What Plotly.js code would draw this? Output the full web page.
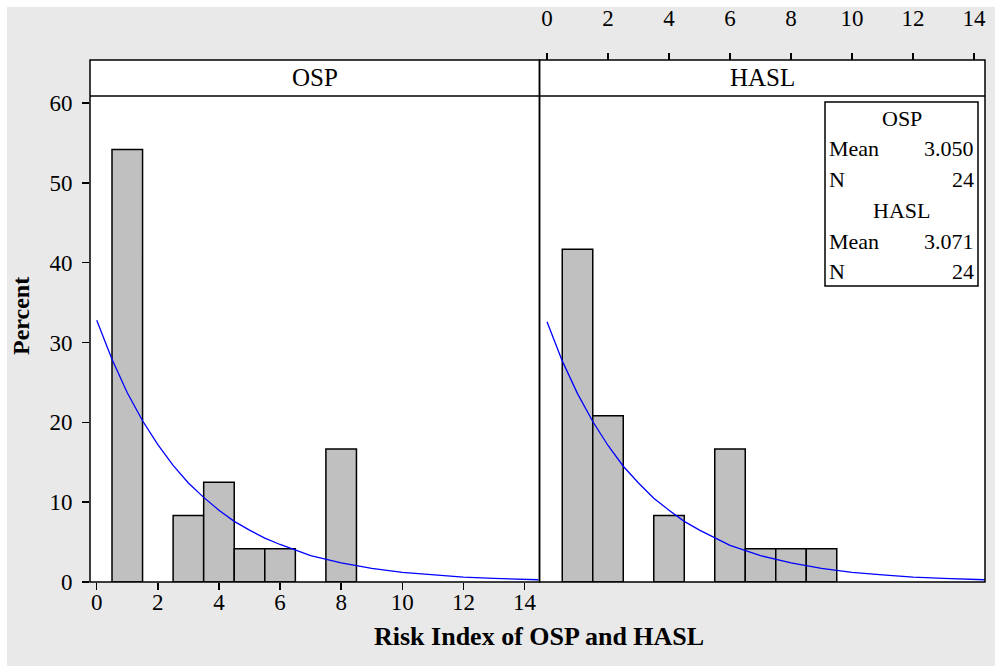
<!DOCTYPE html>
<html>
<head>
<meta charset="utf-8">
<script src="https://cdn.plot.ly/plotly-3.0.1.min.js"></script>
<style>
html,body{margin:0;padding:0;background:#ffffff;}
#chart{position:absolute;left:7px;top:7px;width:988px;height:659px;}
</style>
</head>
<body>
<div id="chart"></div>
<script>
// ---- data ----
var panelNames = ["OSP", "HASL"];
var ospBinCenters = [1, 3, 4, 5, 6, 8];
var ospPercent = [54.17, 8.33, 12.5, 4.17, 4.17, 16.67];
var haslBinCenters = [1, 2, 4, 6, 7, 8, 9];
var haslPercent = [41.67, 20.83, 8.33, 16.67, 4.17, 4.17, 4.17];
var binWidth = 1;

var ospCurveX = [0, 0.5, 1, 1.5, 2, 2.5, 3, 3.5, 4, 4.5, 5, 5.5, 6, 7, 8, 9, 10, 11, 12, 13, 14, 14.45];
var ospCurveY = [32.8, 27.9, 23.7, 20.2, 17.2, 14.6, 12.4, 10.6, 9.0, 7.6, 6.5, 5.5, 4.7, 3.3, 2.4, 1.7, 1.2, 0.9, 0.6, 0.45, 0.3, 0.28];
var haslCurveX = [0, 0.5, 1, 1.5, 2, 2.5, 3, 3.5, 4, 4.5, 5, 5.5, 6, 7, 8, 9, 10, 11, 12, 13, 14, 14.35];
var haslCurveY = [32.6, 27.7, 23.6, 20.1, 17.1, 14.5, 12.4, 10.5, 9.0, 7.6, 6.5, 5.5, 4.6, 3.3, 2.4, 1.7, 1.2, 0.9, 0.6, 0.45, 0.3, 0.28];

var statsOSP = {mean: "3.050", n: "24"};
var statsHASL = {mean: "3.071", n: "24"};
var xTickVals = [0, 2, 4, 6, 8, 10, 12, 14];
var yTickVals = [0, 10, 20, 30, 40, 50, 60];

// ---- layout helpers (page pixel -> paper coords) ----
function px(X){ return (X - 90) / 895; }
function py(Y){ return (582 - Y) / 522; }

var FONT = "Liberation Serif, Times New Roman, serif";
var split = px(539.5);
var stripBottom = py(96);

var barStyle = {color: "#c0c0c0", line: {color: "#000000", width: 1.5}};
var traces = [
  {type: "bar", x: ospBinCenters, y: ospPercent, width: binWidth, marker: barStyle,
   xaxis: "x", yaxis: "y", showlegend: false},
  {type: "scatter", mode: "lines", x: ospCurveX, y: ospCurveY, line: {color: "#0000ff", width: 1.3},
   xaxis: "x", yaxis: "y", showlegend: false},
  {type: "bar", x: haslBinCenters, y: haslPercent, width: binWidth, marker: barStyle,
   xaxis: "x2", yaxis: "y", showlegend: false},
  {type: "scatter", mode: "lines", x: haslCurveX, y: haslCurveY, line: {color: "#0000ff", width: 1.3},
   xaxis: "x2", yaxis: "y", showlegend: false}
];

var tickFont = {family: FONT, size: 23, color: "#000000"};

var shapes = [
  {type: "rect", xref: "paper", yref: "paper", x0: 0, x1: 1, y0: stripBottom, y1: 1,
   fillcolor: "#ffffff", line: {width: 0}, layer: "below"},
  {type: "rect", xref: "paper", yref: "paper", x0: 0, x1: split, y0: 0, y1: 1,
   line: {color: "#000000", width: 1.5}, layer: "above"},
  {type: "rect", xref: "paper", yref: "paper", x0: split, x1: 1, y0: 0, y1: 1,
   line: {color: "#000000", width: 1.5}, layer: "above"},
  {type: "line", xref: "paper", yref: "paper", x0: 0, x1: 1, y0: stripBottom, y1: stripBottom,
   line: {color: "#000000", width: 1.5}, layer: "above"},
  {type: "rect", xref: "paper", yref: "paper", x0: px(825), x1: px(978), y0: py(286), y1: py(102),
   fillcolor: "#ffffff", line: {color: "#000000", width: 1.5}, layer: "above"}
];

function ann(text, X, Y, xa, size, extra){
  var a = {text: text, xref: "paper", yref: "paper", x: px(X), y: py(Y),
    xanchor: xa, yanchor: "middle", showarrow: false,
    font: {family: FONT, size: size, color: "#000"}};
  if (extra) for (var k in extra) a[k] = extra[k];
  return a;
}

var annotations = [
  ann(panelNames[0], 314.75, 78, "center", 25),
  ann(panelNames[1], 762.25, 78, "center", 25),
  ann("<b>Percent</b>", 21, 316, "center", 24, {textangle: -90}),
  ann("<b>Risk Index of OSP and HASL</b>", 539, 636, "center", 26)
];

var boxLines = [
  {kind: "center", text: panelNames[0], Y: 118},
  {kind: "pair", left: "Mean", right: statsOSP.mean, Y: 148},
  {kind: "pair", left: "N", right: statsOSP.n, Y: 179},
  {kind: "center", text: panelNames[1], Y: 210},
  {kind: "pair", left: "Mean", right: statsHASL.mean, Y: 241},
  {kind: "pair", left: "N", right: statsHASL.n, Y: 271}
];
boxLines.forEach(function(l){
  if (l.kind === "center") {
    annotations.push(ann(l.text, 901.5, l.Y, "center", 22));
  } else {
    annotations.push(ann(l.left, 827, l.Y, "left", 22));
    annotations.push(ann(l.right, 976, l.Y, "right", 22));
  }
});

var layout = {
  width: 988, height: 659,
  margin: {l: 83, r: 10, t: 53, b: 84, pad: 0},
  paper_bgcolor: "#e9e9e9",
  plot_bgcolor: "#ffffff",
  bargap: 0,
  showlegend: false,
  xaxis: {domain: [0, split], range: [-0.22, 14.49], anchor: "y",
    tickvals: xTickVals, ticks: "outside", ticklen: 7, tickwidth: 1.5, tickcolor: "#000",
    ticklabelstandoff: -8,
    showgrid: false, zeroline: false, showline: false, tickfont: tickFont, fixedrange: true},
  xaxis2: {domain: [split, 1], range: [-0.246, 14.36], anchor: "free", position: 1, side: "top",
    tickvals: xTickVals, ticks: "outside", ticklen: 7, tickwidth: 1.5, tickcolor: "#000",
    ticklabelstandoff: 18,
    showgrid: false, zeroline: false, showline: false, tickfont: tickFont, fixedrange: true},
  yaxis: {domain: [0, stripBottom], range: [0, 60.88], anchor: "x",
    tickvals: yTickVals, ticks: "outside", ticklen: 7, tickwidth: 1.5, tickcolor: "#000",
    ticklabelstandoff: 5,
    showgrid: false, zeroline: false, showline: false, tickfont: tickFont, fixedrange: true},
  shapes: shapes,
  annotations: annotations
};

Plotly.newPlot("chart", traces, layout, {displayModeBar: false, staticPlot: true});
</script>
</body>
</html>
